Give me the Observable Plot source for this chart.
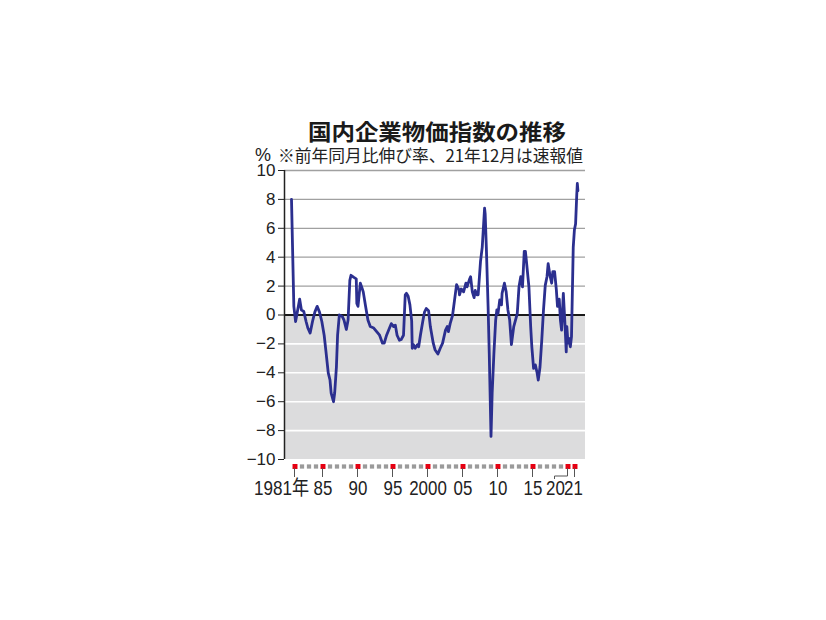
<!DOCTYPE html>
<html><head><meta charset="utf-8">
<script src="https://cdn.jsdelivr.net/npm/d3@7"></script>
<script src="https://cdn.jsdelivr.net/npm/@observablehq/plot@0.6"></script>
<style>body{margin:0;background:#fff;} svg{display:block;}</style>
</head><body><div id="chart"></div>
<script>
const months = [
"1981-01","1981-05","1981-08","1981-11","1982-03","1982-06","1982-10","1983-02","1983-05","1983-09",
"1984-01","1984-05","1984-09","1985-01","1985-05","1985-09","1985-12","1986-04","1986-07","1986-09",
"1987-01","1987-03","1987-06","1987-08","1987-11","1988-04","1988-07","1988-11","1989-02","1989-05",
"1989-07","1989-12","1990-04","1990-05","1990-07","1990-11","1991-02","1991-04","1991-08","1991-12",
"1992-04","1992-10","1993-03","1993-08","1994-01","1994-04","1994-08","1995-01","1995-04","1995-08",
"1995-11","1996-02","1996-06","1996-09","1997-01","1997-04","1997-06","1997-09","1997-12","1998-03",
"1998-04","1998-06","1998-09","1999-01","1999-03","1999-06","1999-10","2000-01","2000-04","2000-08",
"2000-11","2001-04","2001-07","2001-12","2002-04","2002-08","2003-01","2003-04","2003-06","2003-09",
"2004-01","2004-06","2004-08","2004-12","2005-01","2005-04","2005-08","2005-12","2006-02","2006-06",
"2006-08","2006-11","2007-02","2007-04","2007-07","2007-09","2008-01","2008-04","2008-08","2008-09",
"2008-11","2009-02","2009-04","2009-07","2009-09","2009-12","2010-03","2010-05","2010-07","2010-10",
"2011-01","2011-02","2011-06","2011-09","2011-12","2012-03","2012-06","2012-10","2013-01","2013-04",
"2013-07","2013-10","2014-01","2014-04","2014-06","2014-08","2014-12","2015-03","2015-05","2015-08",
"2015-11","2016-02","2016-04","2016-07","2016-10","2017-01","2017-04","2017-07","2017-09","2017-12",
"2018-03","2018-05","2018-08","2018-11","2019-01","2019-04","2019-06","2019-08","2019-11","2020-02",
"2020-04","2020-05","2020-07","2020-08","2020-11","2021-01","2021-04","2021-06","2021-08","2021-10",
"2021-11","2021-12"];
const yoy = [
8.0,0.6,-0.45,0.2,1.1,0.35,0.25,-0.45,-0.9,-1.25,
-0.45,0.2,0.6,0.2,-0.45,-1.4,-2.5,-4.0,-4.5,-5.4,
-6.0,-5.4,-3.6,-1.4,0.0,-0.1,-0.35,-1.0,-0.35,2.4,
2.75,2.6,2.5,0.8,0.6,2.2,1.85,1.6,0.6,-0.35,
-0.8,-0.9,-1.15,-1.4,-1.95,-1.95,-1.4,-0.9,-0.6,-0.8,
-0.7,-1.4,-1.75,-1.7,-1.4,1.4,1.5,1.3,0.7,-0.4,
-2.3,-2.05,-2.3,-2.05,-2.2,-1.4,-0.45,0.2,0.45,0.3,
-0.8,-1.95,-2.4,-2.7,-2.3,-1.95,-1.05,-0.8,-1.15,-0.6,
-0.05,1.5,2.1,1.75,1.4,1.8,1.6,2.2,1.95,2.45,
2.65,1.6,1.2,1.7,1.4,1.4,3.7,4.7,7.4,7.0,
4.7,0.6,-2.65,-8.4,-5.4,-2.65,-0.35,0.35,0.1,1.05,
0.7,1.5,2.2,1.6,0.35,-0.35,-2.05,-0.8,-0.35,0.1,
1.95,2.65,1.95,4.4,4.4,3.6,1.95,-0.8,-2.2,-3.7,
-3.45,-4.0,-4.5,-3.6,-1.75,0.35,2.05,2.65,3.55,2.75,
2.2,3.0,3.0,1.75,0.6,1.1,-0.35,-1.05,1.5,-0.8,
-2.55,-0.8,-1.95,-1.6,-2.2,-1.5,4.7,5.9,6.3,8.3,
9.1,8.6];

const yTicks = [-10,-8,-6,-4,-2,0,2,4,6,8,10];
const yearMarks = d3.range(1981, 2022);
const labelYears = [1981,1985,1990,1995,2000,2005,2010,2015,2020,2021];
const xLabels = ["1981年","85","90","95","2000","05","10","15","20","21"];
const xDomain = [1980, 2023];
const yDomain = [-10, 10];

const titleText = "国内企業物価指数の推移";
const unitText = "%";
const noteText = "※前年同月比伸び率、21年12月は速報値";

const data = months.map((m, i) => {
  const [yy, mm] = m.split("-").map(Number);
  return {t: yy + (mm - 1) / 12, v: yoy[i]};
});
const negArea = [{x1: xDomain[0], x2: xDomain[1], y1: yDomain[0], y2: 0}];
const labels = labelYears.map((y, i) => ({year: y, label: xLabels[i], i}));
const minus = v => v < 0 ? "\u2212" + Math.abs(v) : String(v);

const numFont = "'Liberation Sans',Arial,'Noto Sans CJK JP',sans-serif";
const bottomY = () => yDomain[0];
const mid = d => d + 0.5;
const labelOpts = {y: bottomY, text: "label", dy: 29, fontSize: 20, fontFamily: numFont, fill: "#222", className: "xlab"};

const chart = Plot.plot({
  width: 826, height: 620,
  marginLeft: 284, marginRight: 241, marginTop: 170, marginBottom: 161,
  x: {domain: xDomain, axis: null},
  y: {domain: yDomain, axis: null},
  style: {background: "white", overflow: "visible", color: "#222"},
  marks: [
    Plot.rect(negArea, {x1: "x1", x2: "x2", y1: "y1", y2: "y2", fill: "#dcdcdd"}),
    Plot.ruleY(yTicks.filter(d => d > 0), {stroke: "#a0a0a0", strokeWidth: 1.3}),
    Plot.ruleY(yTicks.filter(d => d < 0 && d > yDomain[0]), {stroke: "#ffffff", strokeWidth: 1.6}),
    Plot.ruleY([0], {stroke: "#1a1a1a", strokeWidth: 2}),
    Plot.ruleX([xDomain[0]], {stroke: "#222", strokeWidth: 1.5}),
    Plot.axisY({ticks: yTicks, tickSize: 6, tickPadding: 3, tickFormat: minus,
      fontSize: 17, fontFamily: "'Liberation Sans',Arial,sans-serif", stroke: "#222"}),
    Plot.line(data, {x: "t", y: "v", stroke: "#2b2f8f", strokeWidth: 2.8, strokeLinejoin: "round", strokeLinecap: "round"}),
    Plot.dot(yearMarks.filter(y => !labelYears.includes(y)), {x: mid, y: bottomY, dy: 7, symbol: "square", r: 2.4, fill: "#9a9a9a", stroke: null}),
    Plot.dot(labelYears, {x: mid, y: bottomY, dy: 7, symbol: "square", r: 2.8, fill: "#e60012", stroke: null}),
    Plot.text(labels.filter(d => d.i > 0 && d.i < 8), {...labelOpts, x: d => mid(d.year)}),
    Plot.text(labels.filter(d => d.i === 0), {...labelOpts, x: d => mid(d.year), dx: 14, textAnchor: "end"}),
    Plot.text(labels.filter(d => d.i === 8), {...labelOpts, x: d => mid(d.year), dx: -12.5}),
    Plot.text(labels.filter(d => d.i === 9), {...labelOpts, x: d => mid(d.year), dx: -1.5})
  ]
});
document.getElementById("chart").appendChild(chart);

const svg = d3.select(chart);
// condense the x labels like the narrow newspaper face
svg.selectAll(".xlab text").each(function () {
  const s = this.textContent;
  const w = Array.from(s).reduce((a, c) => a + (/[0-9]/.test(c) ? 9.4 : 17.5), 0);
  d3.select(this).attr("textLength", w).attr("lengthAdjust", "spacingAndGlyphs");
});

const X = chart.scale("x"), Y = chart.scale("y");
const yb = Y.apply(yDomain[0]);
// tick stubs under the red squares, and the bracket leading to the "20" label
const tickPath = labelYears.filter(y => y !== 2020).map(y => `M${X.apply(mid(y))},${yb + 9}v9`).join("");
const x20 = X.apply(mid(2020));
svg.append("path")
  .attr("d", tickPath + `M${x20},${yb + 9}V${yb + 17}H${x20 - 13}V${yb + 20}`)
  .attr("fill", "none").attr("stroke", "#555").attr("stroke-width", 1);

svg.append("text").text(titleText)
  .attr("x", 437).attr("y", 140).attr("text-anchor", "middle")
  .attr("font-family", "'Noto Sans CJK JP',sans-serif").attr("font-weight", 700)
  .attr("font-size", 22).attr("textLength", 258).attr("lengthAdjust", "spacingAndGlyphs")
  .attr("fill", "#1a1a1a");
svg.append("text").text(unitText)
  .attr("x", 255).attr("y", 161).attr("text-anchor", "start")
  .attr("font-family", "'Liberation Sans',Arial,sans-serif").attr("font-size", 18).attr("fill", "#222");
svg.append("text").text(noteText)
  .attr("x", 278).attr("y", 162).attr("text-anchor", "start")
  .attr("font-family", "'Noto Sans CJK JP',sans-serif").attr("font-size", 17)
  .attr("textLength", 305).attr("lengthAdjust", "spacingAndGlyphs").attr("fill", "#222");
</script>
</body></html>
